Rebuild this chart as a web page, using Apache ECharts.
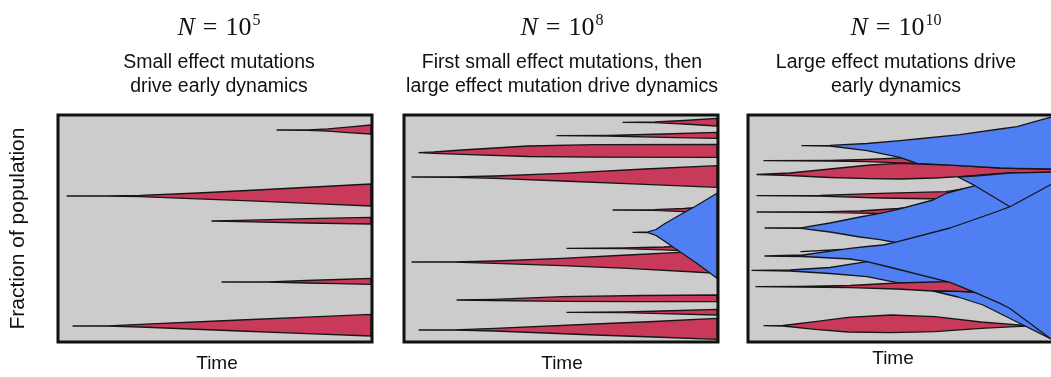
<!DOCTYPE html>
<html>
<head>
<meta charset="utf-8">
<script src="https://cdn.jsdelivr.net/npm/echarts@6/dist/echarts.min.js"></script>
<style>
  html, body { margin: 0; background: #fff; }
  #chart { width: 1051px; height: 377px; }
</style>
</head>
<body>
<div id="chart"></div>
<script>
// Each lineage is a list of [time, upper edge, lower edge] in panel units
// (time 0..314 across, population 0..227 from the top down).

// N = 10^5
const p1a = [[219, 15, 15], [250, 14.8, 15.3], [270, 13.8, 16.2], [290, 12.2, 17.6], [313, 10, 19]];
const p1b = [[9, 81, 81], [50, 80.8, 81.2], [82, 80.3, 81.7], [140, 78, 83.8], [199, 75, 86.2], [256, 72, 88.6], [313, 69, 91]];
const p1c = [[154, 106, 106], [182, 105.4, 106.6], [249, 103.7, 108], [313, 102.3, 109]];
const p1d = [[164, 167, 167], [210, 166.8, 167.2], [249, 165.5, 168], [280, 164.5, 168.7], [313, 163.3, 169.3]];
const p1e = [[15, 211, 211], [50, 210.8, 211.2], [82, 209.3, 212], [182, 205, 216], [249, 202.2, 218.6], [313, 199.3, 221]];

// N = 10^8
const p2a = [[219, 7.3, 7.3], [251, 7, 7.7], [280, 5.5, 9], [313, 3.3, 11]];
const p2b = [[153, 20.7, 20.7], [204, 20.3, 21], [260, 19, 22.3], [313, 17.3, 23.3]];
const p2c = [[15, 37.7, 37.7], [30, 37, 38.3], [58, 35, 39.3], [124, 31, 41.5], [191, 29.7, 42.2], [313, 29.3, 42.3]];
const p2d = [[8, 62, 62], [50, 61.8, 62.3], [91, 61, 63.3], [158, 58.3, 66], [241, 54, 69.3], [313, 50.7, 72.3]];
const p2e = [[209, 95, 95], [250, 94.7, 95.4], [280, 93.5, 96.7], [300, 92, 98]];
const p2f = [[229, 117.3, 117.3], [244, 116.9, 117.7], [252, 114.5, 120.5], [261, 108.5, 126.5], [274, 101, 135.5], [291, 91.5, 147], [313, 78.3, 163.3]];
const p2g = [[163, 133.3, 133.3], [220, 133, 133.7], [260, 132, 134.8], [290, 130.3, 136.3]];
const p2h = [[8, 147, 147], [50, 146.8, 147.2], [91, 146, 148.3], [158, 143.3, 150.7], [224, 140, 153.3], [291, 136.7, 157], [313, 135.7, 158.3]];
const p2i = [[53, 185, 185], [90, 184.3, 185.5], [158, 181.7, 186.3], [240, 180.5, 186.6], [313, 180, 186.7]];
const p2j = [[163, 197.3, 197.3], [220, 197, 197.7], [258, 196, 198.7], [313, 194.3, 200]];
const p2k = [[15, 215, 215], [50, 214.8, 215.2], [91, 213.3, 216], [191, 209, 220], [250, 206.5, 222], [313, 203.3, 224.3]];

// N = 10^10
const p3r1 = [[16, 45.7, 45.7], [82, 45.4, 46], [118, 44.5, 46.7], [152, 43, 47.8], [177, 42, 48.5]];
const p3r2 = [[9, 59.5, 59.5], [42, 58, 60.5], [82, 54, 62.5], [122, 50, 63.7], [152, 48.3, 64], [187, 49.5, 63], [212, 50.7, 61.7], [252, 53, 58.3], [313, 54.2, 57]];
const p3r3 = [[9, 80.7, 80.7], [72, 80.3, 81.2], [132, 78.3, 83], [198, 76.7, 84], [227, 72, 85]];
const p3r4 = [[9, 97, 97], [72, 96.8, 97.3], [112, 96, 98.2], [150, 93.5, 99], [165, 92, 99.5]];
const p3r5 = [[8, 171.7, 171.7], [52, 171.5, 172], [102, 170.5, 172.7], [149, 168, 174], [185, 167, 176], [202, 166.7, 176.3], [225, 176.5, 176.7]];
const p3r6 = [[16, 210.7, 210.7], [35, 210.5, 211], [67, 206.7, 214.3], [100, 202.3, 217], [143, 200, 217.7], [187, 201.7, 216.7], [233, 207, 213.3], [267, 209.7, 211.7], [280, 210.5, 211], [295, 211, 211]];
const p3b1 = [[54, 30.7, 30.7], [82, 30.4, 31], [119, 28.5, 35.7], [152, 25.7, 42.3], [169, 24, 48.3], [212, 19.7, 50.7], [252, 14, 53], [269, 11.7, 53.5], [302, 2.3, 54], [313, 0, 54.2]];
const p3b3 = [[17, 113, 113], [53, 112.8, 113.3], [82, 108, 117], [112, 102, 122], [132, 98.3, 124.7], [150, 94.3, 128], [185, 85, 131], [199, 78, 133], [227, 70.7, 136], [262, 65, 140], [313, 60, 145]];
const p3y = [[210, 62, 62], [227, 61, 70.7], [262, 58, 91.7], [313, 57, 125]];
const p3b5 = [[4, 155.3, 155.3], [42, 155, 156], [82, 152.5, 158.5], [119, 146.7, 161.7], [149, 143, 167.7], [202, 140, 170], [313, 130, 180]];
const p3b6 = [[185, 176, 176], [210, 176.4, 182], [235, 178, 190], [270, 185, 207.5], [302, 200, 223.3], [313, 205, 227]];
const p3t = [[53, 136.7, 136.7], [93, 134.5, 134.5]];
const p3b4 = [[17, 141, 141], [55, 140, 141.5], [102, 133.3, 144], [119, 131.5, 146.7], [135, 130, 150.5], [147, 127.3, 153.5], [202, 113, 167.3], [225, 105, 176.7], [252, 95.5, 188.3], [262, 91.7, 193.5], [302, 70, 223.3], [313, 67, 227]];

// drawing order (later on top); 'small' / 'large' effect
const panel1 = [['small', p1a], ['small', p1b], ['small', p1c], ['small', p1d], ['small', p1e]];
const panel2 = [['small', p2a], ['small', p2b], ['small', p2c], ['small', p2d], ['small', p2e], ['small', p2g],
  ['small', p2h], ['small', p2i], ['small', p2j], ['small', p2k], ['large', p2f]];
const panel3 = [['small', p3r1], ['small', p3r2], ['small', p3r3], ['small', p3r4], ['small', p3r6],
  ['large', p3b1], ['large', p3b3], ['large', p3y], ['large', p3b5], ['small', p3r5],
  ['large', p3b6], ['large', p3t], ['large', p3b4]];

const popSizes = ['5', '8', '10'];
const captions = [
  'Small effect mutations\ndrive early dynamics',
  'First small effect mutations, then\nlarge effect mutation drive dynamics',
  'Large effect mutations drive\nearly dynamics',
];

const SPAN_T = 314;
const SPAN_P = 227;
const panelLeft = [58, 404, 748];
const textCenter = [219, 562, 896];
const timeCenter = [217, 562, 893];
const COLORS = { small: '#c93a5a', large: '#4f7ff3' };
const INK = '#111';

const chart = echarts.init(document.getElementById('chart'));

const grids = [];
const xAxes = [];
const yAxes = [];
const series = [];
const titles = [];

[panel1, panel2, panel3].forEach((lineages, i) => {
  const box = { left: panelLeft[i], top: 115, width: SPAN_T, height: SPAN_P, outerBoundsMode: 'none' };
  // background grid + frame grid drawn above the shapes
  grids.push({ ...box, show: true, backgroundColor: '#cccccc', borderWidth: 0, z: 0 });
  grids.push({ ...box, show: true, backgroundColor: 'transparent', borderColor: INK, borderWidth: 3, z: 10 });
  for (let k = 0; k < 2; k++) {
    const gi = i * 2 + k;
    xAxes.push({ type: 'value', gridIndex: gi, min: 0, max: SPAN_T, show: false });
    const y = { type: 'value', gridIndex: gi, min: 0, max: SPAN_P, inverse: true, show: false };
    if (i === 0 && k === 0) {
      Object.assign(y, {
        show: true,
        axisLine: { show: false }, axisTick: { show: false }, axisLabel: { show: false }, splitLine: { show: false },
        name: 'Fraction of population', nameLocation: 'middle', nameRotate: 90, nameGap: 29,
        nameTextStyle: { fontFamily: 'Liberation Sans', fontSize: 21, color: INK },
      });
    }
    yAxes.push(y);
  }

  series.push({
    type: 'custom',
    xAxisIndex: i * 2,
    yAxisIndex: i * 2,
    clip: true,
    data: lineages.map(l => [l[1][0][0], l[1][0][1]]),
    renderItem: (params, api) => {
      const [kind, pts] = lineages[params.dataIndex];
      const upper = pts.map(p => api.coord([p[0], p[1]]));
      const lower = pts.slice().reverse().map(p => api.coord([p[0], p[2]]));
      return {
        type: 'polygon',
        shape: { points: upper.concat(lower) },
        style: { fill: COLORS[kind], stroke: '#161616', lineWidth: 1.3, lineJoin: 'round' },
      };
    },
  });

  const serif = { fontFamily: 'Liberation Serif', fontSize: 26, fontWeight: 'normal', color: INK };
  titles.push({
    text: '{i|N}{e|=}{d|10}{s|' + popSizes[i] + '}',
    left: textCenter[i], top: 13, textAlign: 'center', padding: 0,
    textStyle: {
      ...serif,
      rich: {
        i: { ...serif, fontStyle: 'italic', lineHeight: 28, verticalAlign: 'bottom' },
        e: { ...serif, padding: [0, 8, 0, 8], lineHeight: 28, verticalAlign: 'bottom' },
        d: { ...serif, lineHeight: 28, verticalAlign: 'bottom' },
        s: { ...serif, fontSize: 16, lineHeight: 16, verticalAlign: 'top', padding: [0, 0, 0, 1] },
      },
    },
  });
  titles.push({
    text: captions[i],
    left: textCenter[i], top: 51, textAlign: 'center', padding: 0,
    textStyle: { fontFamily: 'Liberation Sans', fontSize: 19.5, fontWeight: 'normal', color: INK, lineHeight: 23.5 },
  });
  titles.push({
    text: 'Time',
    left: timeCenter[i], top: i === 2 ? 349 : 354, textAlign: 'center', padding: 0,
    textStyle: { fontFamily: 'Liberation Sans', fontSize: 19, fontWeight: 'normal', color: INK },
  });
});

chart.setOption({
  animation: false,
  title: titles,
  grid: grids,
  xAxis: xAxes,
  yAxis: yAxes,
  series: series,
});
</script>
</body>
</html>
